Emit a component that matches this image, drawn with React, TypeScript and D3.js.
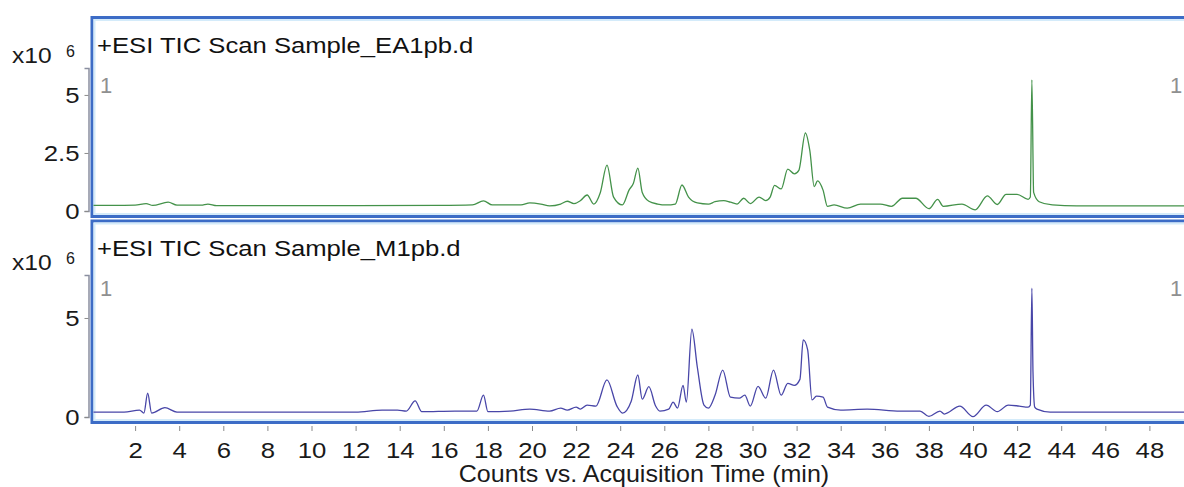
import React, { useEffect, useRef } from 'react';
import * as d3 from 'd3';

// TIC traces, [time (min), counts x10^6]
const ea1Trace: [number, number][] = [
    [0, 0.24], [1.0, 0.24], [2.0, 0.25], [2.5, 0.32], [2.8, 0.24], [3.5, 0.38], [3.9, 0.25],
    [5.0, 0.25], [5.3, 0.3], [5.7, 0.23], [8, 0.23], [12, 0.23], [15.8, 0.24], [17.3, 0.26],
    [17.8, 0.44], [18.2, 0.26], [19.5, 0.26], [19.9, 0.35], [20.4, 0.3], [20.8, 0.22],
    [21.3, 0.3], [21.6, 0.42], [21.9, 0.32], [22.2, 0.45], [22.5, 0.69], [22.8, 0.3],
    [23.1, 0.8], [23.4, 1.98], [23.7, 0.6], [24.1, 0.26], [24.4, 0.9], [24.6, 1.2],
    [24.8, 1.85], [25.0, 0.8], [25.3, 0.42], [25.7, 0.3], [26.1, 0.26], [26.5, 0.3],
    [26.8, 1.12], [27.1, 0.6], [27.5, 0.35], [28.0, 0.3], [28.3, 0.4], [28.7, 0.45],
    [29.0, 0.38], [29.3, 0.3], [29.6, 0.55], [29.9, 0.32], [30.3, 0.6], [30.6, 0.45],
    [30.8, 0.6], [31.0, 1.1], [31.3, 0.95], [31.6, 1.8], [31.9, 1.6], [32.1, 1.75],
    [32.4, 3.36], [32.6, 2.6], [32.8, 1.05], [32.95, 1.3], [33.2, 0.9], [33.4, 0.2],
    [33.7, 0.26], [34.3, 0.12], [34.9, 0.3], [35.8, 0.3], [36.3, 0.2], [36.8, 0.55],
    [37.4, 0.55], [38.0, 0.1], [38.4, 0.5], [38.65, 0.2], [39.5, 0.3], [40.1, 0.05],
    [40.65, 0.65], [41.1, 0.28], [41.5, 0.72], [42.0, 0.72], [42.5, 0.5], [42.6, 0.6],
    [42.67, 5.65], [42.75, 0.8], [43.0, 0.4], [43.6, 0.26], [44.7, 0.22], [50, 0.22],
];

const m1Trace: [number, number][] = [
    [0, 0.25], [1.5, 0.25], [2.2, 0.35], [2.4, 0.2], [2.57, 1.2], [2.75, 0.2], [3.35, 0.47],
    [3.9, 0.25], [5, 0.25], [12, 0.25], [13.2, 0.35], [13.9, 0.35], [14.3, 0.3], [14.7, 0.81],
    [15.0, 0.27], [16.5, 0.3], [17.5, 0.3], [17.8, 1.1], [18.0, 0.27], [19.0, 0.3],
    [19.9, 0.4], [20.8, 0.3], [21.3, 0.45], [21.6, 0.35], [22.0, 0.5], [22.2, 0.4],
    [22.5, 0.6], [22.9, 0.55], [23.4, 1.87], [23.85, 0.55], [24.1, 0.2], [24.5, 0.8],
    [24.8, 2.12], [25.0, 0.9], [25.3, 1.53], [25.6, 0.57], [25.8, 0.3], [26.2, 0.4],
    [26.4, 0.75], [26.6, 0.45], [26.85, 1.6], [27.0, 0.75], [27.25, 4.43], [27.5, 2.5],
    [27.8, 0.6], [28.0, 0.45], [28.3, 1.1], [28.65, 2.37], [29.0, 1.0], [29.4, 0.95],
    [29.65, 1.1], [29.9, 0.55], [30.25, 1.55], [30.6, 0.95], [30.95, 2.37], [31.3, 1.1],
    [31.6, 1.7], [31.9, 1.6], [32.15, 1.9], [32.3, 3.89], [32.5, 3.4], [32.7, 0.86],
    [32.9, 1.05], [33.2, 1.0], [33.4, 0.5], [34.0, 0.35], [35.2, 0.4], [36.7, 0.3],
    [37.6, 0.3], [38.0, 0.03], [38.5, 0.3], [38.7, 0.15], [39.4, 0.55], [40.0, 0.02],
    [40.6, 0.6], [41.1, 0.27], [41.6, 0.6], [42.1, 0.55], [42.5, 0.5], [42.6, 0.6],
    [42.67, 6.5], [42.72, 2.3], [42.8, 0.5], [42.9, 0.4], [43.5, 0.25], [50, 0.25],
];

const timeTicks = d3.range(2, 49, 2);
const ea1Ticks = [0, 2.5, 5];
const m1Ticks = [0, 5];

const FONT = 'Arial, "Liberation Sans", sans-serif';
const STRETCH = 1.12; // glyphs in the picture are a bit wider than tall

const App = () => {
    const ref = useRef(null);

    useEffect(() => {
        const svg = d3.select(ref.current);
        svg.selectAll('*').remove();

        const x = d3.scaleLinear().domain([0, 50]).range([91, 91 + 50 * 22.05]);

        const panels = [
            { title: '+ESI TIC Scan Sample_EA1pb.d', data: ea1Trace, ticks: ea1Ticks, top: 17.5, bottom: 216.5,
              y: d3.scaleLinear().domain([0, 6.16]).range([211, 68]), color: '#44924a' },
            { title: '+ESI TIC Scan Sample_M1pb.d', data: m1Trace, ticks: m1Ticks, top: 221, bottom: 422.5,
              y: d3.scaleLinear().domain([0, 7.17]).range([417, 275]), color: '#4846a8' },
        ];

        const stretched = (sel, ax, ay, k = STRETCH) =>
            sel.attr('transform', `translate(${ax},${ay}) scale(${k},1) translate(${-ax},${-ay})`);

        panels.forEach((p, i) => {
            const g = svg.append('g');

            g.append('rect')
                .attr('x', 92).attr('y', p.top)
                .attr('width', 1120).attr('height', p.bottom - p.top)
                .attr('fill', '#fff')
                .attr('stroke', '#3c6cc6').attr('stroke-width', 3);
            g.append('rect')
                .attr('x', 94.5).attr('y', p.top + 2.5)
                .attr('width', 1115).attr('height', p.bottom - p.top - 5)
                .attr('fill', 'none')
                .attr('stroke', '#d4ebfa').attr('stroke-width', 2);

            const clipId = `clip${i}`;
            svg.append('clipPath').attr('id', clipId)
                .append('rect')
                .attr('x', 93.5).attr('y', p.top + 1.5)
                .attr('width', 1110).attr('height', p.bottom - p.top - 3);

            const line = d3.line()
                .x(d => x(d[0]))
                .y(d => p.y(d[1]))
                .curve(d3.curveMonotoneX);

            g.append('path')
                .datum(p.data)
                .attr('clip-path', `url(#${clipId})`)
                .attr('fill', 'none')
                .attr('stroke', p.color)
                .attr('stroke-width', 1.3)
                .attr('stroke-linejoin', 'round')
                .attr('d', line);

            // y axis
            const yAxis = g.append('g')
                .attr('transform', 'translate(88.5,0)')
                .call(d3.axisLeft(p.y).tickValues(p.ticks).tickSize(4).tickPadding(4)
                    .tickFormat(d => String(d)));
            yAxis.select('.domain').attr('stroke', '#8a8fa0').attr('stroke-width', 1.5);
            yAxis.selectAll('.tick line').attr('stroke', '#8a8a8a');
            yAxis.selectAll('text')
                .attr('font-family', FONT).attr('font-size', 23).attr('fill', '#1a1a1a')
                .attr('transform', `scale(${STRETCH},1)`);

            // scale factor label
            const base = p.top + (i === 0 ? 45.5 : 49);
            stretched(g.append('text').attr('x', 12).attr('y', base)
                .attr('font-family', FONT).attr('font-size', 22).attr('fill', '#1a1a1a')
                .text('x10'), 12, base);
            g.append('text').attr('x', 66).attr('y', base - 6)
                .attr('font-family', FONT).attr('font-size', 16).attr('fill', '#1a1a1a')
                .text('6');

            // title
            const tBase = p.top + 35.5;
            stretched(g.append('text').attr('x', 97).attr('y', tBase)
                .attr('font-family', FONT).attr('font-size', 22.5).attr('fill', '#111')
                .text(p.title), 97, tBase, 1.14);

            // trace number labels
            [100, 1170].forEach(lx => {
                g.append('text').attr('x', lx).attr('y', p.top + 75)
                    .attr('font-family', FONT).attr('font-size', 22).attr('fill', '#8f9090')
                    .text('1');
            });
        });

        // x axis
        const xAxis = svg.append('g')
            .attr('transform', 'translate(0,426)')
            .call(d3.axisBottom(x).tickValues(timeTicks).tickSize(5).tickPadding(11)
                .tickFormat(d => String(d)));
        xAxis.select('.domain').remove();
        xAxis.selectAll('.tick line').attr('stroke', '#8a8a8a');
        xAxis.selectAll('text')
            .attr('font-family', FONT).attr('font-size', 23).attr('fill', '#1a1a1a')
            .attr('transform', `scale(${STRETCH},1)`);

        stretched(svg.append('text')
            .attr('x', 644).attr('y', 482)
            .attr('text-anchor', 'middle')
            .attr('font-family', FONT).attr('font-size', 23).attr('fill', '#1a1a1a')
            .text('Counts vs. Acquisition Time (min)'), 644, 482, 1.09);
    }, []);

    return (
        <svg
            ref={ref}
            width={1184}
            height={487}
            style={{ position: 'absolute', left: 0, top: 0, background: '#fff' }}
        />
    );
};

export default App;
